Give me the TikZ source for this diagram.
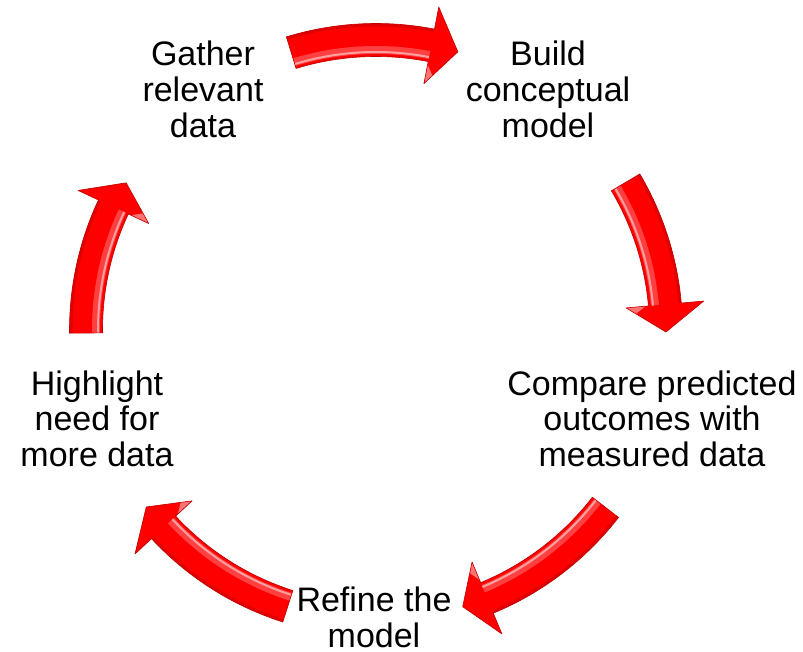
\documentclass[tikz,border=0pt]{standalone}
\usepackage{fontspec}
\setmainfont{Liberation Sans}
\definecolor{arrowred}{RGB}{255,0,0}
\definecolor{arrowdark}{RGB}{190,0,0}
\newcommand\Ri{273.5}
\newcommand\Ro{306.5}
\newcommand\Rm{290}
\newcommand\Hi{251}
\newcommand\Ho{329}
\newcommand\cyclearrow[3]{%
  \fill[arrowred] (#1:\Ri) arc[start angle=#1,end angle=#2,radius=\Ri] -- (#2:\Hi) -- (#3:\Rm) -- (#2:\Ho) -- (#2:\Ro) arc[start angle=#2,end angle=#1,radius=\Ro] -- cycle;
  \begin{scope}
    \clip (#1:\Ri) arc[start angle=#1,end angle=#2,radius=\Ri] -- (#2:\Ro) arc[start angle=#2,end angle=#1,radius=\Ro] -- cycle;
    \draw[white, opacity=0.25, line width=8] (0,0) circle[radius=280];
    \draw[white, opacity=0.5, line width=2] (0,0) circle[radius=278];
    \draw[arrowdark, opacity=0.45, line width=3] (0,0) circle[radius=305];
  \end{scope}
  \begin{scope}
    \clip (#2:\Hi) -- (#3:\Rm) -- (#2:\Ho) -- cycle;
    \fill[white, opacity=0.45] (#2:\Hi) -- ($(#2:\Hi)!0.25!(#3:\Rm)$) -- ($(#2:\Hi)!0.5!(#2:\Rm)$) -- cycle;
  \end{scope}
  \draw[arrowdark, line width=0.6, line join=round] (#1:\Ri) arc[start angle=#1,end angle=#2,radius=\Ri] -- (#2:\Hi) -- (#3:\Rm) -- (#2:\Ho) -- (#2:\Ro) arc[start angle=#2,end angle=#1,radius=\Ro] -- cycle;
}
\usetikzlibrary{calc}
\begin{document}
\begin{tikzpicture}[x=1pt,y=1pt]
\useasboundingbox (0,0) rectangle (803,651);
\tikzset{lbl/.style={font=\fontsize{34}{35.8}\selectfont, align=center, anchor=base, inner sep=0pt}}
\begin{scope}[shift={(376,321)}]
  \cyclearrow{107}{79}{73.6}
  \cyclearrow{30.6}{5.05}{-0.4}
  \cyclearrow{-37.7}{-67.5}{-72.6}
  \cyclearrow{-107.7}{-137.1}{-142.4}
  \cyclearrow{180.6}{154.9}{149.5}
\end{scope}
\node[lbl] (gather) at (203,513.7) {Gather\\relevant\\data};
\node[lbl] (build) at (548,513.7) {Build\\conceptual\\model};
\node[lbl] (compare) at (652,184.3) {Compare predicted\\outcomes with\\measured data};
\node[lbl] (refine) at (374,3.5) {Refine the\\model};
\node[lbl] (highlight) at (97,184.3) {Highlight\\need for\\more data};
\end{tikzpicture}
\end{document}
